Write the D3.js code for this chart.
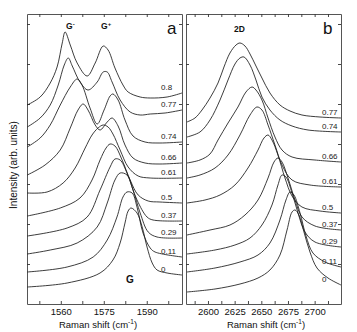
<!DOCTYPE html>
<html><head><meta charset="utf-8">
<script src="https://cdn.jsdelivr.net/npm/d3@7"></script>
<style>body{margin:0;background:#fff}svg{display:block;font-family:"Liberation Sans",Arial,sans-serif}</style>
</head><body><svg id="c" width="357" height="332"></svg>
<script>
// ---------- data ----------
const gLabels = ["0.8","0.77","0.74","0.66","0.61","0.5","0.37","0.29","0.11","0"];
const gSpectra = [
 [[1548.3,199],[1552.8,207],[1556.3,221],[1558.7,237],[1560.5,261],[1561.5,272],[1563.3,259],[1565.7,241],[1569.2,228],[1572.0,241],[1574.8,258],[1576.5,254],[1578.9,236],[1581.7,219],[1583.5,212],[1587.7,207],[1591.2,206],[1597.1,207],[1602.3,211]],
 [[1548.3,177],[1552.8,186],[1556.3,199],[1559.1,219],[1561.2,239],[1562.6,246],[1564.0,238],[1566.7,222],[1569.5,214],[1572.7,222],[1574.8,232],[1576.2,232],[1577.9,222],[1580.7,204],[1584.2,192],[1587.7,189],[1591.2,190],[1596.4,191],[1602.3,194]],
 [[1548.3,157],[1552.8,166],[1556.3,179],[1559.8,199],[1563.3,217],[1565.7,225],[1567.4,219],[1570.2,196],[1572.7,180],[1575.1,194],[1577.2,208],[1578.2,210],[1580.0,204],[1582.4,184],[1585.2,168],[1589.4,162],[1594.6,161],[1602.3,162]],
 [[1548.3,129],[1554.5,139],[1559.8,154],[1563.3,176],[1566.0,194],[1567.8,200],[1569.5,194],[1572.0,179],[1573.7,174],[1576.2,182],[1577.9,186],[1580.0,178],[1582.4,159],[1585.2,146],[1589.4,141],[1594.6,140],[1602.3,141]],
 [[1548.3,111],[1555.2,112],[1560.8,121],[1565.0,136],[1568.5,156],[1570.9,169],[1573.0,176],[1574.8,179],[1576.5,177],[1578.2,170],[1580.7,154],[1583.5,137],[1587.0,128],[1591.2,126],[1602.3,126]],
 [[1548.3,88],[1559.8,96],[1566.7,106],[1570.9,124],[1573.7,144],[1575.8,156],[1577.2,160],[1578.9,158],[1581.4,144],[1584.2,124],[1587.0,109],[1590.5,103],[1594.6,102],[1602.3,101]],
 [[1548.3,68],[1562.2,76],[1569.2,87],[1573.7,114],[1577.2,137],[1578.9,145],[1580.7,144],[1583.1,131],[1586.6,104],[1590.1,87],[1592.2,84],[1602.3,83]],
 [[1548.3,50],[1556.3,54],[1565.7,61],[1572.7,77],[1576.2,101],[1578.9,124],[1580.7,131],[1583.1,129],[1585.2,114],[1587.7,91],[1590.5,72],[1593.6,67],[1602.3,66]],
 [[1548.3,32],[1562.2,37],[1571.3,47],[1576.2,64],[1579.6,87],[1581.7,107],[1583.1,112],[1584.9,111],[1586.6,97],[1588.7,71],[1591.2,56],[1592.9,52],[1602.3,47]],
 [[1548.3,17],[1562.2,21],[1573.7,31],[1578.2,44],[1580.7,61],[1582.4,81],[1583.5,93],[1584.5,96],[1586.6,91],[1588.4,77],[1590.1,57],[1591.9,41],[1593.6,34],[1597.1,31],[1602.3,29]]
];
const d2Labels = ["0.77","0.74","0.66","0.61","0.5","0.37","0.29","0.11","0"];
const d2Spectra = [
 [[2580.3,182],[2587.8,186],[2594.4,194],[2601.9,206],[2609.4,221],[2615.0,237],[2620.6,251],[2626.3,259],[2630.0,261],[2634.7,258],[2639.4,250],[2645.0,238],[2650.6,226],[2658.1,211],[2667.5,199],[2676.9,193],[2688.1,189],[2705.0,187],[2724.7,186]],
 [[2580.3,167],[2592.5,172],[2601.9,184],[2611.3,204],[2618.8,224],[2625.3,240],[2630.0,246],[2633.8,247],[2639.4,239],[2645.0,224],[2650.6,207],[2658.1,194],[2667.5,184],[2678.8,178],[2693.8,174],[2724.7,172]],
 [[2580.3,141],[2592.5,144],[2601.9,150],[2609.4,164],[2618.8,181],[2628.1,197],[2635.6,212],[2641.3,217],[2645.0,214],[2650.6,204],[2656.3,186],[2662.8,167],[2669.4,154],[2678.8,147],[2700.3,144],[2724.7,142]],
 [[2580.3,126],[2592.5,129],[2606.6,136],[2618.8,149],[2630.0,169],[2639.4,189],[2645.9,197],[2650.6,194],[2656.3,179],[2662.8,159],[2669.4,139],[2678.8,124],[2695.6,119],[2724.7,117]],
 [[2580.3,101],[2597.2,104],[2611.3,109],[2625.3,119],[2637.5,136],[2646.9,154],[2652.5,166],[2656.3,169],[2660.0,164],[2665.6,149],[2672.2,126],[2678.8,108],[2688.1,97],[2705.0,93],[2724.7,91]],
 [[2580.3,69],[2601.9,74],[2620.6,79],[2634.7,89],[2646.9,104],[2656.3,126],[2661.9,142],[2665.6,146],[2669.4,142],[2675.0,126],[2681.6,104],[2688.1,87],[2700.3,78],[2724.7,74]],
 [[2580.3,50],[2606.6,54],[2625.3,59],[2639.4,66],[2650.6,79],[2660.0,99],[2665.6,119],[2669.4,129],[2673.1,127],[2678.8,111],[2684.4,91],[2690.9,72],[2700.3,62],[2724.7,57]],
 [[2580.3,32],[2606.6,36],[2630.0,42],[2646.9,49],[2658.1,61],[2667.5,84],[2673.1,104],[2676.9,112],[2680.6,109],[2686.3,91],[2691.9,68],[2698.4,51],[2709.7,42],[2724.7,37]],
 [[2580.3,12],[2606.6,15],[2630.0,20],[2646.9,26],[2658.1,34],[2667.5,49],[2674.1,74],[2678.8,92],[2681.6,94],[2685.3,89],[2690.0,72],[2695.6,52],[2702.2,36],[2712.5,26],[2724.7,19]]
];
const gTicks = [1552.5,1560,1567.5,1575,1582.5,1590,1597.5];
const gTickLabels = [1560,1575,1590];
const d2Ticks = [2587.5,2600,2612.5,2625,2637.5,2650,2662.5,2675,2687.5,2700,2712.5];
const d2TickLabels = [2600,2625,2650,2675,2700];
const intensityTicks = [40,80,120,160,200,240,280];
const gDomain = [1548.2,1602.3];
const d2Domain = [2579.4,2724.7];
const intensityDomain = [0,290];

// ---------- drawing ----------
const svg = d3.select("#c");
const plotTop = 14, plotBottom = 304;
const yScale = d3.scaleLinear().domain(intensityDomain).range([plotBottom, plotTop]);

function panel(x0, x1, domain, ticks, tickLabels, spectra, labels, labelX, letter, letterX) {
  const x = d3.scaleLinear().domain(domain).range([x0, x1]);
  const g = svg.append("g");
  const fmt = d => tickLabels.includes(d) ? String(d) : "";
  const style = s => {
    s.selectAll("path.domain").attr("stroke", "#555").attr("stroke-width", 1);
    s.selectAll(".tick line").attr("stroke", "#333").attr("stroke-width", 0.9);
    s.selectAll(".tick text").attr("font-size", 9.5).attr("fill", "#111")
      .attr("font-family", '"Liberation Sans",Arial,sans-serif');
  };
  g.append("g").attr("transform", `translate(0,${plotBottom})`)
    .call(d3.axisBottom(x).tickValues(ticks).tickFormat(fmt).tickSize(-3).tickSizeOuter(0).tickPadding(4)).call(style);
  g.append("g").attr("transform", `translate(0,${plotTop})`)
    .call(d3.axisTop(x).tickValues(ticks).tickFormat("").tickSize(-3).tickSizeOuter(0)).call(style);
  g.append("g").attr("transform", `translate(${x0},0)`)
    .call(d3.axisLeft(yScale).tickValues(intensityTicks).tickFormat("").tickSize(-3).tickSizeOuter(0)).call(style);
  g.append("g").attr("transform", `translate(${x1},0)`)
    .call(d3.axisRight(yScale).tickValues(intensityTicks).tickFormat("").tickSize(-3).tickSizeOuter(0)).call(style);

  const line = d3.line().x(d => x(d[0])).y(d => yScale(d[1])).curve(d3.curveCatmullRom.alpha(0.5));
  g.append("g").selectAll("path").data(spectra).join("path")
    .attr("d", line).attr("fill", "none").attr("stroke", "#1a1a1a").attr("stroke-width", 0.85);
  g.append("g").selectAll("text").data(spectra).join("text")
    .attr("x", labelX).attr("y", d => yScale(d[d.length - 1][1]) - 3.5)
    .attr("font-size", 8).attr("fill", "#222").text((d, i) => labels[i]);
  g.append("text").attr("x", letterX).attr("y", 34).attr("font-size", 17).attr("fill", "#111").text(letter);
  return x;
}

panel(27, 182, gDomain, gTicks, gTickLabels, gSpectra, gLabels, 161, "a", 167);
panel(186, 341, d2Domain, d2Ticks, d2TickLabels, d2Spectra, d2Labels, 322, "b", 323);

// band annotations
const ann = svg.append("g").attr("font-weight", "bold").attr("fill", "#111");
const gm = ann.append("text").attr("x", 66).attr("y", 29).attr("font-size", 8.5).text("G");
gm.append("tspan").attr("dy", -3).attr("font-size", 6).text("-");
const gp = ann.append("text").attr("x", 101).attr("y", 29).attr("font-size", 8.5).text("G");
gp.append("tspan").attr("dy", -3).attr("font-size", 6).text("+");
ann.append("text").attr("x", 234).attr("y", 32).attr("font-size", 8.5).text("2D");
ann.append("text").attr("x", 130).attr("y", 283).attr("font-size", 10).attr("text-anchor", "middle").text("G");

// axis titles
function xTitle(cx) {
  const t = svg.append("text").attr("x", cx).attr("y", 327.5).attr("text-anchor", "middle")
    .attr("font-size", 9.5).attr("fill", "#111").text("Raman shift (cm");
  t.append("tspan").attr("dy", -3.5).attr("font-size", 6.5).text("-1");
  t.append("tspan").attr("dy", 3.5).text(")");
}
xTitle(98);
xTitle(266);
svg.append("text").attr("transform", "translate(17,165) rotate(-90)").attr("text-anchor", "middle")
  .attr("font-size", 10).attr("fill", "#111").text("Intensity (arb. units)");
</script></body></html>
